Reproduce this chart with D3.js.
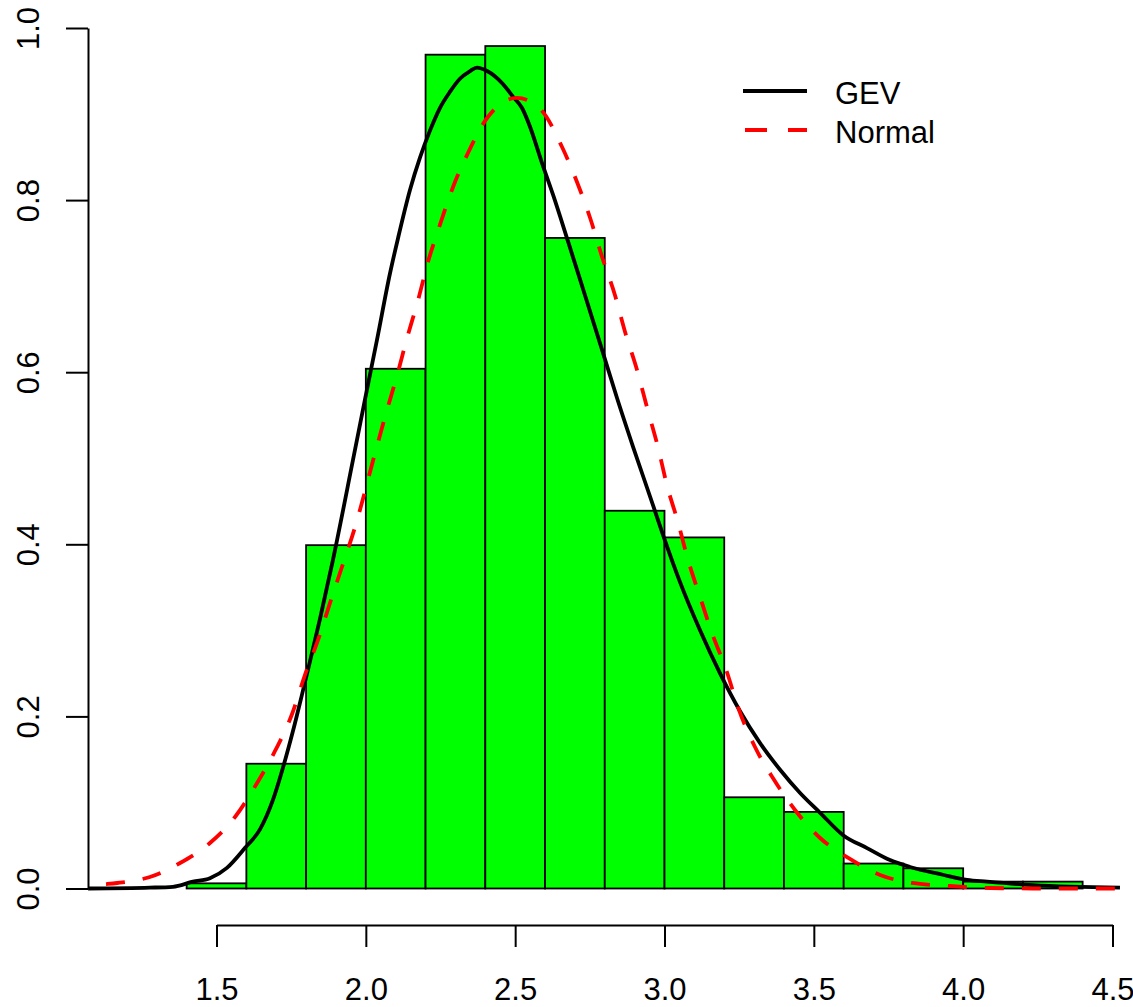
<!DOCTYPE html>
<html>
<head>
<meta charset="utf-8">
<script src="https://cdn.jsdelivr.net/npm/d3@7"></script>
<style>
  html, body { margin: 0; padding: 0; background: #fff; }
  svg { display: block; }
  text { font-family: "Liberation Sans", Arial, Helvetica, sans-serif; }
</style>
</head>
<body>
<svg id="chart" width="1133" height="1007"></svg>
<script>
// ---- data ----
const binStarts = [1.4, 1.6, 1.8, 2.0, 2.2, 2.4, 2.6, 2.8, 3.0, 3.2, 3.4, 3.6, 3.8, 4.0, 4.2];
const binWidth = 0.2;
const density = [0.006, 0.145, 0.399, 0.604, 0.969, 0.979, 0.756, 0.439, 0.408, 0.106, 0.089, 0.029, 0.0235, 0.008, 0.008];

const gevX = [1.070, 1.277, 1.354, 1.421, 1.478, 1.535, 1.595, 1.646, 1.689, 1.723, 1.756, 1.786, 1.813, 1.847, 1.890,
  1.957, 1.997, 2.037, 2.081, 2.108, 2.148, 2.181, 2.215, 2.248, 2.282, 2.315, 2.349, 2.372, 2.406, 2.432, 2.459,
  2.493, 2.523, 2.550, 2.590, 2.627, 2.677, 2.727, 2.791, 2.841, 2.895, 2.962, 2.995, 3.052, 3.119, 3.186, 3.253,
  3.320, 3.387, 3.454, 3.521, 3.598, 3.678, 3.755, 3.822, 3.932, 4.013, 4.080, 4.234, 4.525];
const gevY = [0.000, 0.001, 0.002, 0.008, 0.012, 0.024, 0.047, 0.069, 0.103, 0.141, 0.183, 0.225, 0.264, 0.314, 0.382,
  0.498, 0.568, 0.637, 0.715, 0.756, 0.812, 0.849, 0.881, 0.907, 0.926, 0.941, 0.950, 0.954, 0.950, 0.944, 0.935,
  0.920, 0.907, 0.885, 0.843, 0.806, 0.752, 0.697, 0.626, 0.570, 0.513, 0.445, 0.411, 0.356, 0.300, 0.250, 0.206,
  0.169, 0.138, 0.111, 0.088, 0.062, 0.047, 0.033, 0.025, 0.016, 0.010, 0.008, 0.004, 0.001];

const normX = [1.070, 1.133, 1.167, 1.277, 1.378, 1.478, 1.562, 1.636, 1.696, 1.753, 1.796, 1.840, 1.880, 1.920, 1.964,
  2.031, 2.068, 2.104, 2.138, 2.175, 2.208, 2.248, 2.292, 2.342, 2.406, 2.506, 2.587, 2.657, 2.707, 2.751, 2.791,
  2.834, 2.868, 2.908, 2.941, 2.978, 3.008, 3.045, 3.079, 3.119, 3.159, 3.209, 3.246, 3.303, 3.363, 3.437, 3.521,
  3.621, 3.722, 3.829, 3.956, 4.090, 4.234, 4.525];
const normY = [0.0035, 0.0052, 0.0064, 0.0134, 0.0296, 0.0529, 0.0831, 0.1226, 0.1598, 0.2028, 0.2481, 0.2888, 0.3318, 0.3736, 0.4201,
  0.5061, 0.5526, 0.5956, 0.6397, 0.6839, 0.7280, 0.7711, 0.8152, 0.8547, 0.8954, 0.9187, 0.9047, 0.8617, 0.8210, 0.7792, 0.7339,
  0.6897, 0.6467, 0.6026, 0.5596, 0.5131, 0.4689, 0.4259, 0.3817, 0.3388, 0.2969, 0.2516, 0.2109, 0.1644, 0.1284, 0.0912, 0.0587,
  0.0343, 0.0157, 0.0064, 0.0029, 0.0006, 0.0, 0.0];

const xTicks = [1.5, 2.0, 2.5, 3.0, 3.5, 4.0, 4.5];
const yTicks = [0.0, 0.2, 0.4, 0.6, 0.8, 1.0];
const legendLabels = ["GEV", "Normal"];

// ---- drawing ----
const svg = d3.select("#chart");
const x = d3.scaleLinear().domain([1.5, 4.5]).range([216.5, 1112.5]);
const y = d3.scaleLinear().domain([0, 1]).range([888.5, 28]);
const FONT = 31;

// bars
svg.append("g").selectAll("rect")
  .data(binStarts.map((b, i) => ({ b, d: density[i] })))
  .join("rect")
  .attr("x", d => x(d.b))
  .attr("width", d => x(d.b + binWidth) - x(d.b))
  .attr("y", d => y(d.d))
  .attr("height", d => y(0) - y(d.d))
  .attr("fill", "#00ff00")
  .attr("stroke", "#000")
  .attr("stroke-width", 1.8);

const line = d3.line().x(d => x(d[0])).y(d => y(d[1])).curve(d3.curveMonotoneX);

// GEV curve
svg.append("path")
  .datum(gevX.map((v, i) => [v, gevY[i]]))
  .attr("d", line)
  .attr("fill", "none")
  .attr("stroke", "#000")
  .attr("stroke-width", 3.8)
  .attr("stroke-linejoin", "round");

// Normal curve
svg.append("path")
  .datum(normX.map((v, i) => [v, normY[i]]))
  .attr("d", line)
  .attr("fill", "none")
  .attr("stroke", "#ff0000")
  .attr("stroke-width", 3.8)
  .attr("stroke-dasharray", "19,18")
  .attr("stroke-dashoffset", 19);

// Y axis
const yAxis = d3.axisLeft(y).tickValues(yTicks).tickFormat(d3.format(".1f")).tickSize(22).tickSizeOuter(0);
const gy = svg.append("g").attr("transform", "translate(88,0)").call(yAxis);
gy.select(".domain").attr("stroke", "#000").attr("stroke-width", 2);
gy.selectAll(".tick line").attr("stroke", "#000").attr("stroke-width", 2);
gy.selectAll(".tick text")
  .attr("x", null).attr("dy", null)
  .attr("transform", "translate(-49.5,0) rotate(-90)")
  .attr("text-anchor", "middle")
  .attr("fill", "#000")
  .style("font-size", FONT + "px")
  .style("font-family", '"Liberation Sans", Arial, sans-serif');

// X axis
const xAxis = d3.axisBottom(x).tickValues(xTicks).tickFormat(d3.format(".1f")).tickSize(22).tickSizeOuter(0);
const gx = svg.append("g").attr("transform", "translate(0,925)").call(xAxis);
gx.select(".domain").attr("stroke", "#000").attr("stroke-width", 2);
gx.selectAll(".tick line").attr("stroke", "#000").attr("stroke-width", 2);
gx.selectAll(".tick text")
  .attr("y", 75).attr("dy", null)
  .attr("fill", "#000")
  .style("font-size", FONT + "px")
  .style("font-family", '"Liberation Sans", Arial, sans-serif');

// Legend
const leg = svg.append("g");
leg.append("line").attr("x1", 743).attr("x2", 807).attr("y1", 91).attr("y2", 91)
  .attr("stroke", "#000").attr("stroke-width", 3.8);
leg.append("line").attr("x1", 745).attr("x2", 807).attr("y1", 130).attr("y2", 130)
  .attr("stroke", "#ff0000").attr("stroke-width", 3.8).attr("stroke-dasharray", "22,21");
leg.selectAll("text").data(legendLabels).join("text")
  .attr("x", 835)
  .attr("y", (d, i) => 104 + i * 39)
  .attr("fill", "#000")
  .style("font-size", FONT + "px")
  .text(d => d);
</script>
</body>
</html>
